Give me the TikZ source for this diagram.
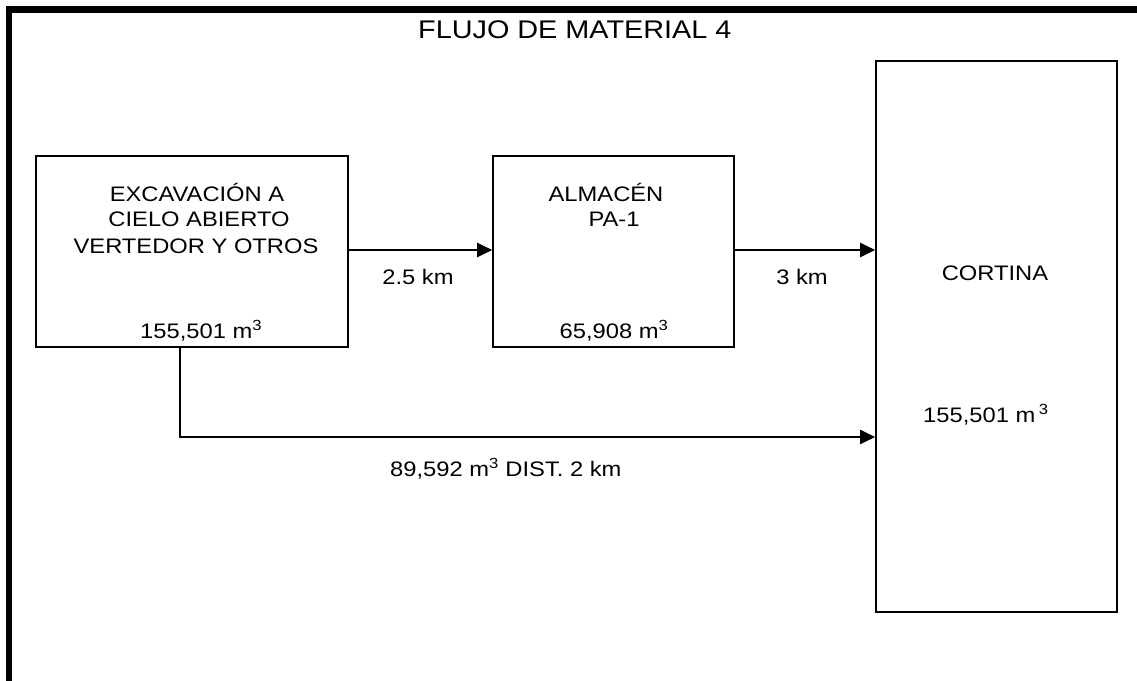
\documentclass[tikz,border=0pt]{standalone}
\usepackage{fontspec}
\setmainfont[FakeStretch=1.13]{Liberation Sans}
\usetikzlibrary{arrows.meta}
\begin{document}
\begin{tikzpicture}[x=1pt,y=-1pt,
  boxnode/.style={draw, line width=1.6pt, inner sep=0pt, fill=white},
  txt/.style={inner sep=0pt, anchor=base, font=\fontsize{21}{25}\selectfont},
  txtw/.style={inner sep=0pt, anchor=base west, font=\fontsize{21}{25}\selectfont},
  conn/.style={line width=2pt, -{Triangle[length=15pt,width=14pt]}},
  frameline/.style={line width=6.5pt}]
\clip (0,0) rectangle (1137,680);
\fill[white] (0,0) rectangle (1137,680);
% outer frame (only left and top edges visible)
\coordinate (fbl) at (9,700);
\coordinate (ftl) at (9,9.3);
\coordinate (ftr) at (1150,9.3);
\draw[frameline] (fbl) -- (ftl) -- (ftr);
% title
\node[txtw, font=\fontsize{25.5}{30}\selectfont] (title) at (418,38) {FLUJO DE MATERIAL 4};
% boxes
\node[boxnode, minimum width=312pt, minimum height=191pt] (b1) at (192,251.5) {};
\node[boxnode, minimum width=241pt, minimum height=191pt] (b2) at (613.5,251.5) {};
\node[boxnode, minimum width=241pt, minimum height=551pt] (c) at (996.5,336.5) {};
% box 1 text
\node[txt] (b1l1) at (197,201.7) {EXCAVACIÓN A};
\node[txt] (b1l2) at (199,226.7) {CIELO ABIERTO};
\node[txt] (b1l3) at (196,253) {VERTEDOR Y OTROS};
\node[txtw] (b1v) at (140,338) {155,501 m\textsuperscript{3}};
% box 2 text
\node[txt] (b2l1) at (606,201.7) {ALMACÉN};
\node[txt] (b2l2) at (614,226.7) {PA-1};
\node[txt] (b2v) at (614,338) {65,908 m\textsuperscript{3}};
% cortina text
\node[txt] (cl) at (995,280.5) {CORTINA};
\node[txtw] (cv) at (923,422) {155,501 m\,\textsuperscript{3}};
% connectors
\draw[conn] ([yshift=1.5pt]b1.east) -- ([yshift=1.5pt]b2.west);
\draw[conn] ([yshift=1.5pt]b2.east) -- ([yshift=1.5pt]b2.east -| c.west);
\coordinate (split) at ([xshift=-12pt]b1.south);
\draw[conn] (split) |- ([yshift=-100.5pt]c.west);
% connector labels
\node[txt] (d1) at (418,284) {2.5 km};
\node[txt] (d2) at (802,284) {3 km};
\node[txtw] (d3) at (390,476) {89,592 m\textsuperscript{3} DIST. 2 km};
\end{tikzpicture}
\end{document}
